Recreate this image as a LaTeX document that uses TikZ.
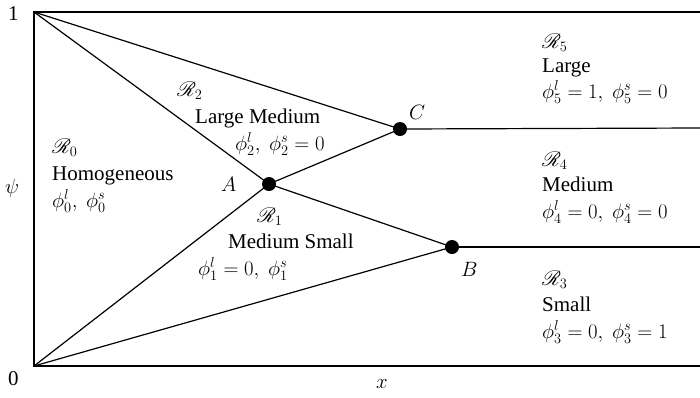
\documentclass[tikz,border=0pt]{standalone}
\usepackage{mathrsfs}
\usepackage{fontspec}
\setmainfont{Liberation Serif}
\begin{document}
\begin{tikzpicture}[x=1pt,y=-1pt,
  lbl/.style={anchor=base west,inner sep=0pt,font=\fontsize{21}{24}\selectfont},
  pt/.style={circle,fill=black,inner sep=0pt,minimum size=14pt},
  edge/.style={line width=1.2pt}]
\useasboundingbox (0,0) rectangle (700,397);
\coordinate (TL) at (34,12);
\coordinate (BL) at (34,366);
\coordinate (TR) at (700,12);
\coordinate (BR) at (700,366);
\coordinate (CR) at (700,128);
\coordinate (BRR) at (700,247);
\node[pt] (A) at (269,184) {};
\node[pt] (C) at (400,129) {};
\node[pt] (B) at (452,247) {};
\draw[edge] (TR) -- (TL) -- (BL) -- (BR);
\draw[edge] (TL) -- (A.center);
\draw[edge] (TL) -- (C.center);
\draw[edge] (BL) -- (A.center);
\draw[edge] (BL) -- (B.center);
\draw[edge] (A.center) -- (C.center);
\draw[edge] (A.center) -- (B.center);
\draw[edge] (C.center) -- (CR);
\draw[edge] (B.center) -- (BRR);
% axis labels
\node[lbl] (one) at (8,20) {1};
\node[lbl] (zero) at (8,385) {0};
\node[lbl] (psi) at (5,193) {$\psi$};
\node[lbl] (xl) at (376,388) {$x$};
% point labels
\node[lbl] (Al) at (221,191) {$A$};
\node[lbl] (Cl) at (409,119) {$C$};
\node[lbl] (Bl) at (461,276) {$B$};
% R0
\node[lbl] (r0a) at (52,153) {$\mathscr{R}_0$};
\node[lbl] (r0b) at (52,180) {Homogeneous};
\node[lbl] (r0c) at (52,207) {$\phi_0^l,\ \phi_0^s$};
% R2
\node[lbl] (r2a) at (177,96) {$\mathscr{R}_2$};
\node[lbl] (r2b) at (195,123) {Large Medium};
\node[lbl] (r2c) at (235,150) {$\phi_2^l,\ \phi_2^s=0$};
% R1
\node[lbl] (r1a) at (257,222) {$\mathscr{R}_1$};
\node[lbl] (r1b) at (228,248) {Medium Small};
\node[lbl] (r1c) at (198,275) {$\phi_1^l=0,\ \phi_1^s$};
% R5
\node[lbl] (r5a) at (542,48) {$\mathscr{R}_5$};
\node[lbl] (r5b) at (542,72) {Large};
\node[lbl] (r5c) at (542,98) {$\phi_5^l=1,\ \phi_5^s=0$};
% R4
\node[lbl] (r4a) at (542,166) {$\mathscr{R}_4$};
\node[lbl] (r4b) at (542,191) {Medium};
\node[lbl] (r4c) at (542,218) {$\phi_4^l=0,\ \phi_4^s=0$};
% R3
\node[lbl] (r3a) at (542,285) {$\mathscr{R}_3$};
\node[lbl] (r3b) at (542,311) {Small};
\node[lbl] (r3c) at (542,338) {$\phi_3^l=0,\ \phi_3^s=1$};
\end{tikzpicture}
\end{document}
